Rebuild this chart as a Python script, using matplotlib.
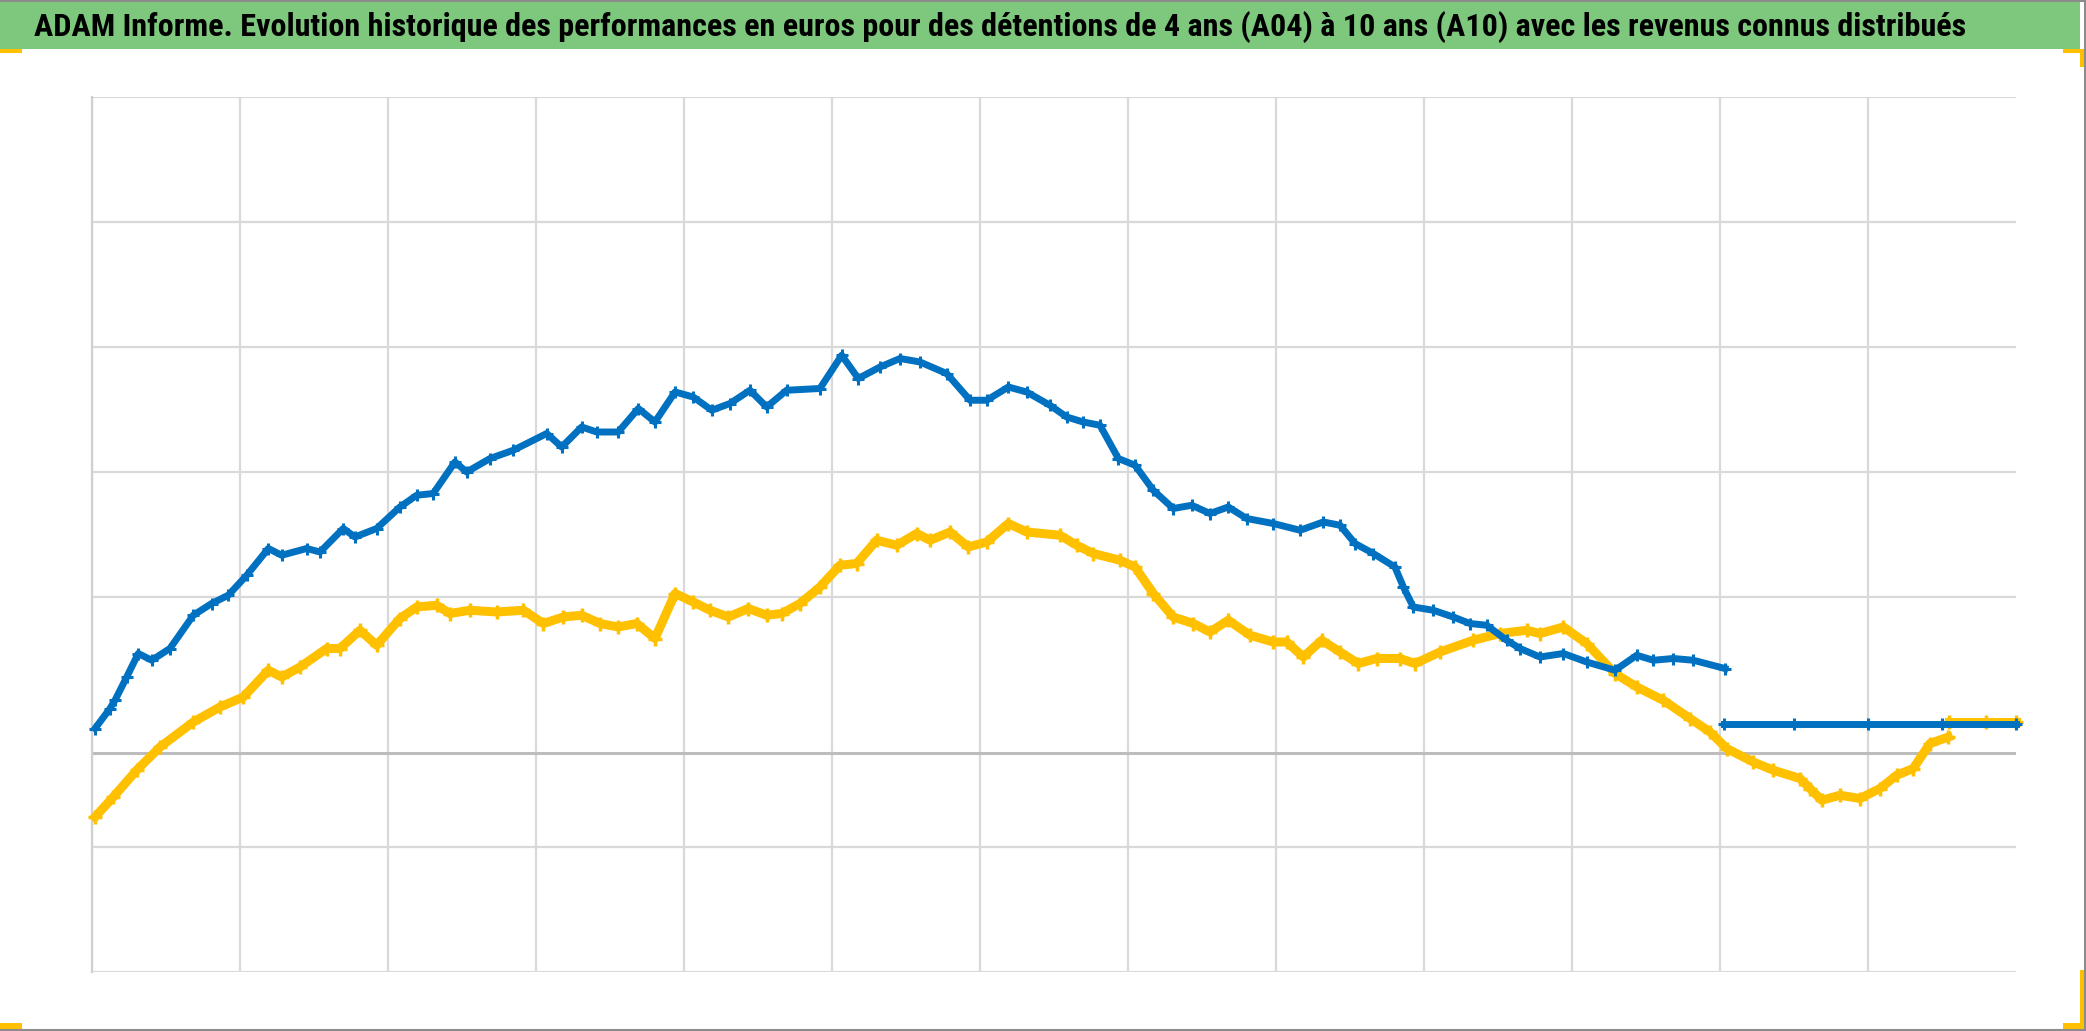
import matplotlib
matplotlib.use("Agg")
import matplotlib.pyplot as plt
from matplotlib import font_manager
from matplotlib.patches import Rectangle
from matplotlib.lines import Line2D

# x: position in grid intervals (13 columns), y: performance (grid step = 10)
a04_x = [0.024, 0.125, 0.159, 0.238, 0.316, 0.407, 0.530, 0.688, 0.812, 0.924,
         1.049, 1.195, 1.285, 1.454, 1.544, 1.701, 1.780, 1.927, 2.084, 2.197,
         2.309, 2.456, 2.535, 2.693, 2.850, 3.076, 3.177, 3.312, 3.414, 3.559,
         3.695, 3.807, 3.943, 4.066, 4.191, 4.314, 4.449, 4.562, 4.697, 4.922,
         5.069, 5.181, 5.328, 5.463, 5.598, 5.778, 5.936, 6.049, 6.195, 6.319,
         6.476, 6.589, 6.701, 6.814, 6.938, 7.051, 7.174, 7.309, 7.434, 7.557,
         7.681, 7.805, 7.985, 8.166, 8.323, 8.436, 8.537, 8.661, 8.807, 8.864,
         8.931, 9.066, 9.201, 9.314, 9.427, 9.562, 9.652, 9.787, 9.945, 10.103,
         10.294, 10.441, 10.553, 10.688, 10.823, 11.037]
a04_y = [1.98, 3.58, 4.24, 6.10, 7.98, 7.44, 8.38, 11.04, 11.98, 12.64,
         14.24, 16.38, 15.84, 16.38, 16.10, 17.98, 17.30, 17.98, 19.70, 20.64,
         20.78, 23.30, 22.50, 23.58, 24.24, 25.58, 24.50, 26.10, 25.70, 25.70,
         27.58, 26.50, 28.90, 28.50, 27.44, 27.98, 29.04, 27.70, 29.04, 29.18,
         31.84, 29.98, 30.90, 31.58, 31.30, 30.38, 28.24, 28.24, 29.30, 28.90,
         27.84, 26.90, 26.50, 26.24, 23.58, 23.04, 21.04, 19.58, 19.84, 19.18,
         19.70, 18.78, 18.38, 17.84, 18.50, 18.24, 16.78, 15.98, 14.90, 13.30,
         11.70, 11.44, 10.90, 10.38, 10.24, 9.04, 8.38, 7.70, 7.98, 7.30,
         6.64, 7.84, 7.44, 7.58, 7.44, 6.78]
a04_known_x = [11.03, 11.5, 12.0, 12.5, 13.0]
a04_known_y = [2.38, 2.38, 2.38, 2.38, 2.38]

a10_x = [0.024, 0.147, 0.305, 0.463, 0.688, 0.868, 1.026, 1.195, 1.285, 1.409,
         1.589, 1.679, 1.814, 1.927, 2.084, 2.197, 2.332, 2.422, 2.557, 2.738,
         2.918, 3.053, 3.188, 3.312, 3.436, 3.559, 3.684, 3.807, 3.943, 4.066,
         4.179, 4.303, 4.438, 4.562, 4.664, 4.787, 4.922, 5.057, 5.170, 5.305,
         5.441, 5.576, 5.666, 5.801, 5.924, 6.049, 6.195, 6.319, 6.544, 6.657,
         6.769, 6.949, 7.051, 7.174, 7.309, 7.445, 7.557, 7.681, 7.828, 7.985,
         8.076, 8.188, 8.312, 8.436, 8.559, 8.684, 8.841, 8.943, 9.111, 9.336,
         9.517, 9.697, 9.787, 9.945, 10.103, 10.294, 10.441, 10.620, 10.801, 10.936,
         11.049, 11.228, 11.364, 11.544, 11.611, 11.691, 11.814, 11.949, 12.084, 12.197,
         12.309, 12.422, 12.546]
a10_y = [-5.10, -3.50, -1.36, 0.50, 2.50, 3.70, 4.50, 6.64, 6.10, 6.90,
         8.38, 8.38, 9.84, 8.64, 10.78, 11.70, 11.84, 11.18, 11.44, 11.30,
         11.44, 10.38, 10.90, 11.04, 10.38, 10.10, 10.38, 9.18, 12.78, 12.10,
         11.44, 10.90, 11.58, 11.04, 11.18, 11.98, 13.30, 15.04, 15.18, 17.04,
         16.64, 17.58, 17.04, 17.70, 16.50, 16.90, 18.38, 17.70, 17.44, 16.64,
         15.98, 15.44, 14.90, 12.78, 10.90, 10.38, 9.70, 10.64, 9.44, 8.90,
         8.90, 7.70, 9.04, 8.10, 7.18, 7.58, 7.58, 7.18, 8.10, 9.04,
         9.58, 9.84, 9.58, 10.10, 8.78, 6.38, 5.30, 4.24, 2.78, 1.70,
         0.38, -0.70, -1.36, -2.02, -2.82, -3.76, -3.36, -3.62, -2.82, -1.76,
         -1.22, 0.78, 1.30]
a10_known_x = [12.55, 12.8, 13.0]
a10_known_y = [2.50, 2.50, 2.50]

title = ("ADAM Informe. Evolution historique des performances en euros pour des "
         "détentions de 4 ans (A04) à 10 ans (A10) avec les revenus connus distribués")

y_grid = [-17.5, -7.5, 12.5, 22.5, 32.5, 42.5, 52.5]

W, H = 2086, 1031
BLUE = "#0070c0"
GOLD = "#ffc000"
GREEN = "#7ec87e"


def pick_font(names):
    for n in names:
        try:
            font_manager.findfont(n, fallback_to_default=False)
            return n
        except ValueError:
            pass
    return "DejaVu Sans"


def px_rect(x0, y0, x1, y1, **kw):
    # rectangle given in pixel coords, y measured from the top
    return Rectangle((x0 / W, 1 - y1 / H), (x1 - x0) / W, (y1 - y0) / H,
                     transform=fig.transFigure, **kw)


fig = plt.figure(figsize=(W / 100, H / 100), dpi=100)
fig.patch.set_facecolor("white")

# title banner
fig.patches.append(px_rect(0, 0, 2080, 49, facecolor=GREEN, edgecolor="none"))
title_font = pick_font(["Liberation Sans Narrow", "Roboto Condensed", "Open Sans", "DejaVu Sans"])
t = fig.text(34 / W, 1 - 36 / H, title, ha="left", va="baseline",
             fontsize=24, fontweight="bold", family=title_font, color="black")
fig.canvas.draw()
w = t.get_window_extent().width
t.set_fontsize(24 * 1946 / w)

ax = fig.add_axes([91.5 / W, (H - 972) / H, (2015.5 - 91.5) / W, (972 - 97) / H])
ax.set_xlim(0, 13)
ax.set_ylim(-17.5, 52.5)
ax.set_xticks(range(13))
ax.set_yticks(y_grid)
ax.tick_params(length=0, labelleft=False, labelbottom=False)
ax.grid(True, color="#d9d9d9", lw=1.6)
ax.set_axisbelow(True)
for s in ["top", "right", "bottom"]:
    ax.spines[s].set_visible(False)
ax.spines["left"].set_color("#d0d0d0")
ax.spines["left"].set_linewidth(1.6)
ax.axhline(0, color="#bdbdbd", lw=2.2, zorder=1)

ax.plot(a10_x, a10_y, color=GOLD, lw=6.5, marker="+", ms=10, mew=2.5, zorder=3, clip_on=False)
ax.plot(a10_known_x, a10_known_y, color=GOLD, lw=6.5, marker="+", ms=10, mew=2.5, zorder=3, clip_on=False)
ax.plot(a04_x, a04_y, color=BLUE, lw=5, marker="+", ms=8, mew=2.2, zorder=4, clip_on=False)
ax.plot(a04_known_x, a04_known_y, color=BLUE, lw=5, marker="+", ms=8, mew=2.2, zorder=4, clip_on=False)

# outer frame (top, right, bottom) and selection handles
for xs, ys in [([0, 1], [0.9995, 0.9995]), ([0.9995, 0.9995], [0, 1]), ([0, 1], [0.0008, 0.0008])]:
    fig.lines.append(Line2D(xs, ys, transform=fig.transFigure, color="#8c8c8c", lw=1.5))
for r in [(0, 49, 22, 53), (2063, 49, 2086, 53), (2080, 49, 2086, 67),
          (0, 1023, 22, 1030), (2063, 1023, 2085, 1030), (2080, 970, 2086, 1030)]:
    fig.patches.append(px_rect(*r, facecolor=GOLD, edgecolor="none"))

fig.savefig("out.png", dpi=100)
